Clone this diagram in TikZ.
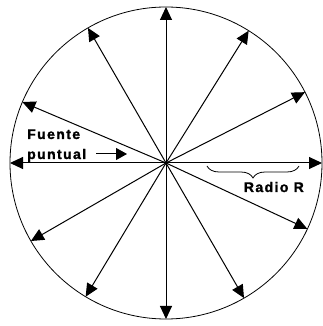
\documentclass[tikz,border=0pt]{standalone}
\usepackage{fontspec}
\newfontfamily\lblfont{Liberation Sans}[LetterSpace=10, BoldFeatures={FakeBold=1.5}]
\usetikzlibrary{arrows.meta, calc, decorations.pathreplacing}
\tikzset{
  ray/.style={-{Triangle[length=13pt, width=12pt]}, line width=1pt, black},
  rim/.style={line width=0.8pt, black},
  lbl/.style={font=\lblfont\bfseries\fontsize{14}{16}\selectfont, inner sep=0pt},
  ptr/.style={-{Triangle[length=11pt, width=12pt]}, line width=1pt},
  brc/.style={decorate, decoration={brace, amplitude=12pt, mirror}, line width=0.8pt},
}

\begin{document}
\begin{tikzpicture}[x=1pt, y=1pt]

  \useasboundingbox (0,0) rectangle (322,326);

  %% ── Source and sphere ──────────────────────────────────────────────────────

  \coordinate (src) at (166,163);
  \draw[rim] (src) circle (156);

  %% ── Rays ───────────────────────────────────────────────────────────────────

  \foreach \a in {0, 27, 58, 90, 120, 157, 180, 210, 239, 270, 300, 335} {
    \coordinate (r\a) at ($(src)+(\a:156)$);
    \draw[ray] (src) -- (r\a);
  }
  \fill (src) circle (1.8);

  %% ── Labels ─────────────────────────────────────────────────────────────────

  \node[lbl, anchor=base west] (fuente) at (27,187) {Fuente};
  \node[lbl, anchor=base west] (puntual) at (27,167) {puntual};

  \coordinate (ptrA) at (96,172);
  \coordinate (ptrB) at (127,172);
  \draw[ptr] (ptrA) -- (ptrB);

  % Radius brace
  \coordinate (brL) at (207,160);
  \coordinate (brR) at (299,160);
  \draw[brc] (brL) -- (brR);
  \node[lbl, anchor=base east] (radio) at (304,134) {Radio R};

\end{tikzpicture}
\end{document}
